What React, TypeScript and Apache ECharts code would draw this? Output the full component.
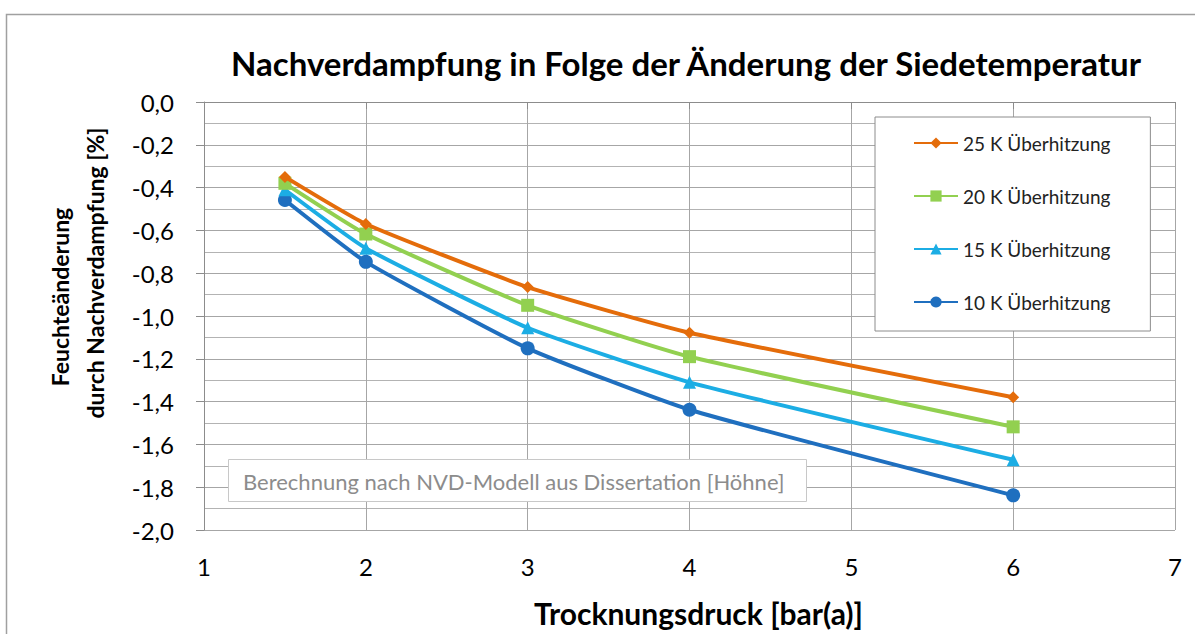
import React, { useEffect, useRef } from "react";
import * as echarts from "echarts";

const xValues = [1.5, 2, 3, 4, 6];
const seriesNames = ["25 K Überhitzung", "20 K Überhitzung", "15 K Überhitzung", "10 K Überhitzung"];
const s25 = [-0.35, -0.57, -0.865, -1.078, -1.38];
const s20 = [-0.38, -0.617, -0.95, -1.19, -1.518];
const s15 = [-0.41, -0.683, -1.055, -1.31, -1.672];
const s10 = [-0.458, -0.747, -1.151, -1.438, -1.838];
const seriesValues = [s25, s20, s15, s10];
const colors = ["#E46C0A", "#92D050", "#1CADE4", "#1F6FBF"];
const symbols = ["diamond", "rect", "triangle", "circle"];
const symbolSizes = [12, 13, 13, 14];
const yTitleLines = ["Feuchteänderung", "durch Nachverdampfung [%]"];

const FONT = "Lato";

export default function App() {
  const ref = useRef<HTMLDivElement>(null);
  useEffect(() => {
    if (!ref.current) return;
    const chart = echarts.init(ref.current, undefined, { renderer: "svg" });
    const series = seriesNames.map((name, i) => ({
      name,
      type: "line",
      data: xValues.map((x, j) => [x, seriesValues[i][j]]),
      smooth: 0.15,
      symbol: symbols[i],
      symbolSize: symbolSizes[i],
      lineStyle: { width: 4, color: colors[i] },
      itemStyle: { color: colors[i] },
      z: 10 - i,
    }));
    chart.setOption({
      animation: false,
      backgroundColor: "#fff",
      textStyle: { fontFamily: FONT },
      title: {
        text: "Nachverdampfung in Folge der Änderung der Siedetemperatur",
        left: 681,
        textAlign: "center",
        top: 41,
        textStyle: { fontFamily: FONT, fontSize: 33, fontWeight: "bold", color: "#000" },
      },
      grid: { left: 204, right: 20, top: 102, bottom: 104 },
      legend: {
        orient: "vertical",
        left: 875,
        top: 117,
        padding: [16, 40, 19, 38],
        itemGap: 33,
        itemWidth: 44,
        itemHeight: 14,
        backgroundColor: "#fff",
        borderColor: "#8c8c8c",
        borderWidth: 1,
        textStyle: { fontFamily: FONT, fontSize: 19, lineHeight: 20, color: "#222" },
        data: seriesNames,
      },
      xAxis: {
        type: "value",
        min: 1,
        max: 7,
        interval: 1,
        name: "Trocknungsdruck [bar(a)]",
        nameLocation: "middle",
        nameGap: 68,
        nameTextStyle: { fontFamily: FONT, fontSize: 30, fontWeight: "bold", color: "#000", padding: [0, 0, 0, 18] },
        axisLine: { lineStyle: { color: "#8c8c8c", width: 1 } },
        axisTick: { show: true, length: 7, lineStyle: { color: "#8c8c8c" } },
        axisLabel: { fontFamily: FONT, fontSize: 24, color: "#000", margin: 24 },
        splitLine: { show: true, lineStyle: { color: "#a6a6a6", width: 1 } },
      },
      yAxis: {
        type: "value",
        min: -2,
        max: 0,
        interval: 0.2,
        axisLine: { show: true, lineStyle: { color: "#8c8c8c", width: 1 } },
        axisTick: { show: true, length: 8, lineStyle: { color: "#8c8c8c" } },
        axisLabel: {
          fontFamily: FONT,
          fontSize: 24,
          color: "#000",
          margin: 30,
          formatter: (v: number) => (Math.abs(v) < 1e-9 ? "0,0" : v.toFixed(1).replace(".", ",")),
        },
        splitLine: { show: true, lineStyle: { color: "#a6a6a6", width: 1 } },
        minorTick: { show: false, splitNumber: 2 },
        minorSplitLine: { show: true, lineStyle: { color: "#b3b3b3", width: 1 } },
      },
      graphic: [
        {
          type: "rect",
          left: 4,
          top: 12,
          shape: { width: 1200, height: 640 },
          style: { fill: "none", stroke: "#a0a0a0", lineWidth: 1.5 },
          silent: true,
          z: -1,
        },
        {
          type: "text",
          x: 60,
          y: 297,
          rotation: Math.PI / 2,
          style: {
            text: yTitleLines[0],
            font: `bold 23px ${FONT}`,
            fill: "#000",
            align: "center",
            verticalAlign: "middle",
          },
        },
        {
          type: "text",
          x: 95,
          y: 273,
          rotation: Math.PI / 2,
          style: {
            text: yTitleLines[1],
            font: `bold 23px ${FONT}`,
            fill: "#000",
            align: "center",
            verticalAlign: "middle",
          },
        },
        {
          type: "rect",
          left: 228,
          top: 459,
          shape: { width: 578, height: 42 },
          style: { fill: "#fff", stroke: "#c8c8c8", lineWidth: 1 },
          z: 20,
        },
        {
          type: "text",
          x: 243,
          y: 481,
          style: {
            text: "Berechnung nach NVD-Modell aus Dissertation [Höhne]",
            font: `22px ${FONT}`,
            fill: "#8c8c8c",
            verticalAlign: "middle",
          },
          z: 21,
        },
      ],
      series,
    });
    return () => chart.dispose();
  }, []);
  return (
    <div
      ref={ref}
      style={{ position: "absolute", left: 0, top: 0, width: 1195, height: 634 }}
    />
  );
}
